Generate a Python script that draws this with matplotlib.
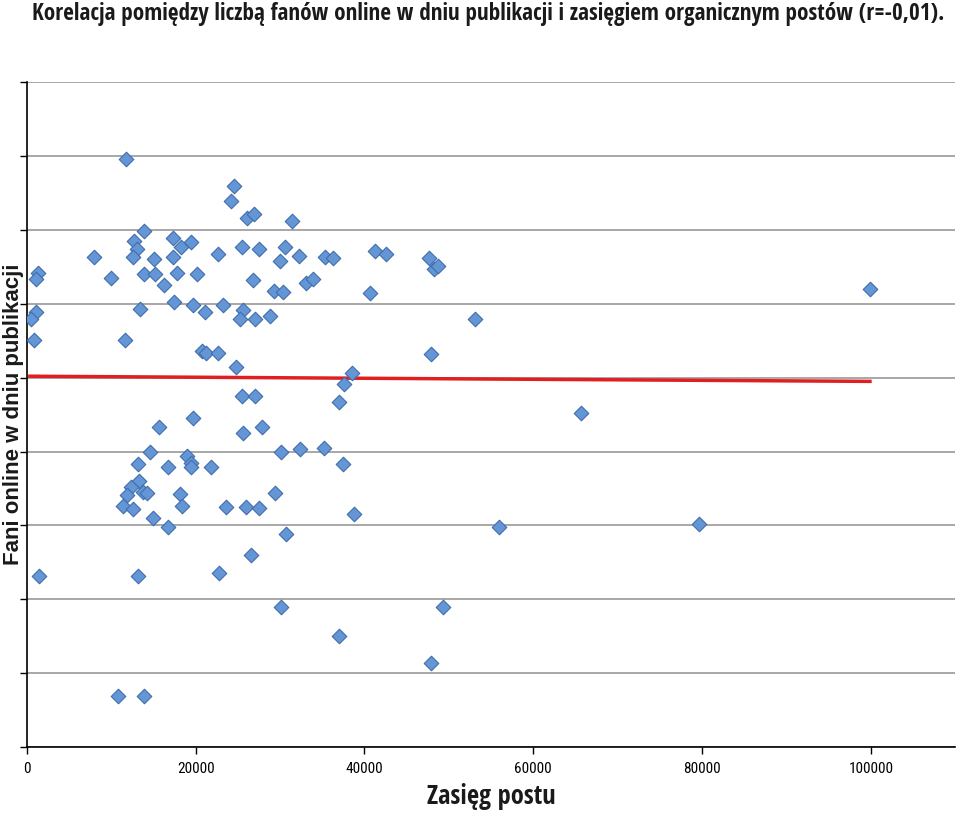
import numpy as np
import matplotlib.pyplot as plt

# zasięg postu (x) i fani online (y, jednostki umowne - oś bez opisów)
zasieg = [11700, 24500, 24200, 26100, 26900, 31400, 13900, 12700, 13000, 12600,
          17300, 19500, 18300, 17300, 15100, 7900, 22700, 25500, 27500, 30600,
          30000, 32300, 35300, 36300, 41300, 42600, 47700, 48200, 48700, 1300,
          1100, 10000, 13900, 15200, 16200, 17800, 20200, 26800, 29300, 30400,
          33100, 33900, 40700, 17400, 19700, 23200, 13400, 21100, 1100, 500,
          25600, 25300, 27000, 28800, 53100, 900, 11600, 20800, 21200, 22700,
          24800, 47900, 38500, 37600, 99900,
          25500, 27000, 37000, 19700, 15700, 25600, 27900, 14600, 19000, 19500,
          19500, 21800, 16700, 13200, 30100, 32400, 35200, 37500, 13300, 12300,
          11900, 13800, 14200, 18100, 18400, 11400, 12600, 14900, 16700, 23600,
          26000, 27500, 29400, 30700, 26600, 38800, 1400, 13200, 22800, 30100,
          37000, 49300, 47900, 10800, 13900, 56000, 65700, 79600]
fani = [796, 760, 739, 716, 722, 712, 698, 685, 674, 663,
        689, 683, 677, 663, 660, 663, 668, 677, 674, 677,
        658, 664, 663, 662, 672, 667, 662, 647, 651, 641,
        633, 635, 640, 640, 626, 641, 640, 632, 617, 616,
        628, 633, 614, 602, 598, 598, 593, 589, 589, 580,
        591, 580, 580, 583, 579, 551, 551, 536, 533, 534,
        514, 532, 506, 491, 620,
        475, 475, 467, 446, 433, 425, 433, 400, 394, 384,
        379, 379, 379, 383, 400, 403, 405, 383, 360, 352,
        341, 345, 344, 342, 326, 326, 322, 310, 298, 325,
        325, 323, 344, 288, 260, 315, 231, 231, 235, 189,
        150, 189, 114, 69, 69, 298, 452, 302]

# linia trendu
trend_x = [350, 99900]
trend_y = [502, 495]

x_ticks = [0, 20000, 40000, 60000, 80000, 100000]

cond = ['Open Sans Condensed', 'DejaVu Sans']
plt.rcParams['font.family'] = cond

fig = plt.figure(figsize=(9.6, 8.13), dpi=100)
ax = fig.add_axes([0.028, 0.081, 0.967, 0.818])

ax.scatter(zasieg, fani, marker='D', s=55, color='#6496d6', edgecolor='#3f6eab',
           linewidth=0.8, zorder=3)
ax.plot(trend_x, trend_y, color='#e02020', linewidth=2.5, zorder=2)

ax.set_xlim(0, 110000)
ax.set_ylim(0, 900)
ax.set_xticks(x_ticks)
ax.set_xticklabels([str(t) for t in x_ticks], fontsize=11,
                   family=['Roboto Condensed', 'DejaVu Sans'], fontweight='normal')
ax.set_yticks(np.arange(0, 901, 100))
ax.set_yticklabels([])
ax.yaxis.grid(True, color='#a0a0a0', linewidth=1.3)
ax.set_axisbelow(True)
ax.tick_params(axis='both', direction='out', length=5, width=1, colors='black')
ax.tick_params(axis='x', pad=6)
for s in ['top', 'right']:
    ax.spines[s].set_visible(False)
ax.spines['left'].set_linewidth(1.2)
ax.spines['bottom'].set_linewidth(1.2)

fig.text(491 / 960, 1 - 796 / 813, 'Zasięg postu', fontsize=19, fontweight='bold',
         ha='center', va='center', color='#1a1a1a')
fig.text(14 / 960, 1 - 414 / 813, 'Fani online w dniu publikacji', fontsize=16,
         fontweight='bold', family=['Liberation Sans', 'DejaVu Sans'],
         rotation=90, ha='center', va='center', color='#1a1a1a')

fig.text(0.033, 0.997, 'Korelacja pomiędzy liczbą fanów online w dniu publikacji '
         'i zasięgiem organicznym postów (r=-0,01).', fontsize=16.7,
         fontweight='bold', color='#1a1a1a', va='top', ha='left')

fig.savefig('out.png', dpi=100)
